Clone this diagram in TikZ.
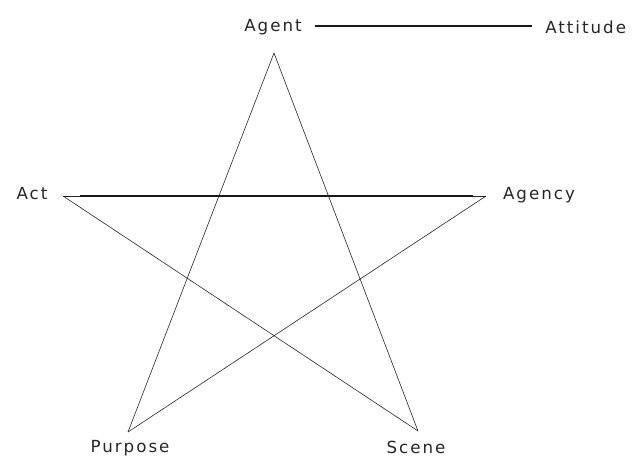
\documentclass[tikz,border=0pt]{standalone}
\usepackage{fontspec}
\setmainfont[LetterSpace=12]{DejaVu Sans}
\begin{document}
\begin{tikzpicture}[x=0.75pt,y=-0.75pt,
  lbl/.style={font=\fontsize{12.5}{14}\selectfont, inner sep=0pt, text=black!85},
  star/.style={draw=black!85, line width=0.45pt},
  bar/.style={draw=black!90, line width=0.9pt}]
\useasboundingbox (0,0) rectangle (636,461);
\node[lbl] (agent) at (273,27) {Agent};
\node[lbl, anchor=west] (attitude) at (545,27) {Attitude};
\node[lbl] (act) at (32,194) {Act};
\node[lbl] (agency) at (539,195) {Agency};
\node[lbl] (purpose) at (130,448) {Purpose};
\node[lbl] (scene) at (416,447) {Scene};
\coordinate (vAgent) at (274,53);
\coordinate (vAct) at (63,196);
\coordinate (vAgency) at (486,196);
\coordinate (vPurpose) at (128,432);
\coordinate (vScene) at (418,431);
\coordinate (aL) at (80,196);
\coordinate (aR) at (473,196);
\draw[bar] ([shift={(13,-1)}]agent.east) coordinate (gE) -- ([xshift=-10]attitude.west |- gE);
\draw[star] (vAgent) -- (vPurpose);
\draw[star] (vAgent) -- (vScene);
\draw[star] (vAct) -- (vScene);
\draw[star] (vAgency) -- (vPurpose);
\draw[star] (vAct) -- (vAgency);
\draw[bar] (aL) -- (aR);
\end{tikzpicture}
\end{document}
